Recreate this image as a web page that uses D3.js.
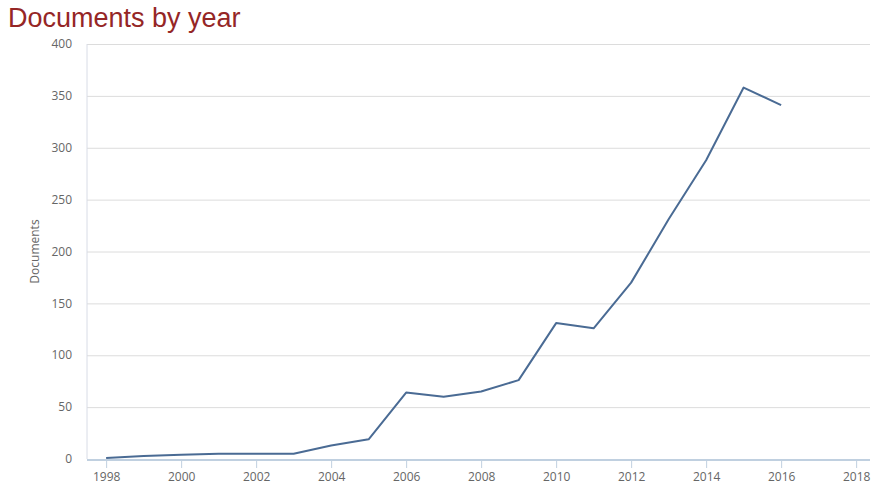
<!DOCTYPE html>
<html>
<head>
<meta charset="utf-8">
<script src="https://cdn.jsdelivr.net/npm/d3@7"></script>
<style>
  body { margin: 0; background: #fff; }
  .grid line { stroke: #dcdcdc; }
  .grid path { display: none; }
</style>
</head>
<body>
<script>
// data
const years = [1998, 1999, 2000, 2001, 2002, 2003, 2004, 2005, 2006, 2007, 2008, 2009, 2010, 2011, 2012, 2013, 2014, 2015, 2016];
const documents = [1, 3, 4, 5, 5, 5, 13, 19, 64, 60, 65, 76, 131, 126, 170, 231, 288, 358, 341];
const xTicks = [1998, 2000, 2002, 2004, 2006, 2008, 2010, 2012, 2014, 2016, 2018];
const yTicks = [0, 50, 100, 150, 200, 250, 300, 350, 400];

const W = 871, H = 485;
const margin = {top: 44, right: 1, bottom: 26, left: 87};
const width = W - margin.left - margin.right;
const height = H - margin.top - margin.bottom;

const svg = d3.select('body').append('svg')
    .attr('width', W)
    .attr('height', H)
    .style('font-family', '"Open Sans", sans-serif');

svg.append('text')
    .attr('x', 8)
    .attr('y', 27)
    .style('font-family', '"Liberation Sans", Arial, sans-serif')
    .style('font-size', '27px')
    .style('fill', '#952626')
    .text('Documents by year');

const g = svg.append('g')
    .attr('transform', 'translate(' + margin.left + ',' + margin.top + ')');

const xScale = d3.scaleLinear()
    .domain([1997.49, 2018.37])
    .range([0, width]);
const yScale = d3.scaleLinear()
    .domain([0, 400])
    .range([height, 0]);

// horizontal grid lines
g.append('g')
    .attr('class', 'grid')
    .call(d3.axisLeft(yScale).tickValues(yTicks).tickSize(-width).tickFormat(''));

// left frame line
g.append('line')
    .attr('x1', 0).attr('x2', 0)
    .attr('y1', 0).attr('y2', height)
    .attr('stroke', '#d8dce6');

// y tick labels
g.append('g')
    .selectAll('text')
    .data(yTicks)
    .join('text')
    .attr('x', -15)
    .attr('y', d => yScale(d))
    .attr('dy', '0.35em')
    .attr('text-anchor', 'end')
    .style('font-size', '12px')
    .style('fill', '#666')
    .text(d => d);

// x axis
const xAxis = g.append('g')
    .attr('transform', 'translate(0,' + (height + 1) + ')')
    .call(d3.axisBottom(xScale).tickValues(xTicks).tickSize(8).tickPadding(4).tickFormat(d3.format('d')));
xAxis.select('.domain')
    .attr('stroke', '#c0d0e0')
    .attr('stroke-width', 2)
    .attr('d', 'M0,0H' + width);
xAxis.selectAll('.tick line').attr('stroke', '#c0d0e0');
xAxis.selectAll('.tick text')
    .style('font-size', '12px')
    .style('fill', '#666')
    .style('font-family', '"Open Sans", sans-serif');

// y axis title
svg.append('text')
    .attr('transform', 'translate(39,' + (margin.top + height / 2) + ') rotate(-90)')
    .attr('text-anchor', 'middle')
    .style('font-size', '12px')
    .style('fill', '#666')
    .text('Documents');

// series line
const line = d3.line()
    .x((d, i) => xScale(years[i]))
    .y(d => yScale(d));

g.append('path')
    .datum(documents)
    .attr('fill', 'none')
    .attr('stroke', '#4a6b94')
    .attr('stroke-width', 2)
    .attr('stroke-linejoin', 'round')
    .attr('d', line);
</script>
</body>
</html>
